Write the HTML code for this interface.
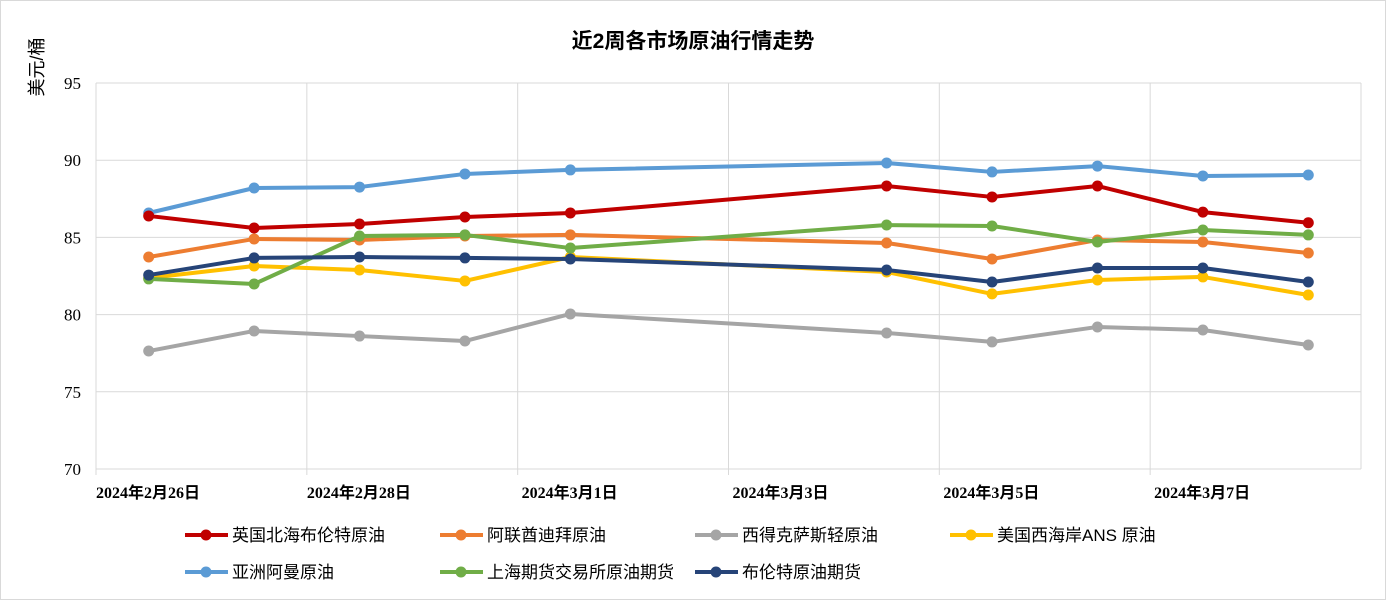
<!DOCTYPE html>
<html><head><meta charset="utf-8"><style>
body{margin:0;background:#fff;}
svg{display:block;font-family:"Liberation Serif","Noto Sans CJK SC",serif;}
</style></head><body>
<svg id="c" width="1386" height="600">
<rect x="0.5" y="0.5" width="1385" height="599" fill="#fff" stroke="#d9d9d9"/>
<text x="693" y="48" text-anchor="middle" font-size="21" font-weight="bold" font-family="Liberation Sans,Noto Sans CJK SC,sans-serif">近2周各市场原油行情走势</text>
<text transform="translate(43,67) rotate(-90)" text-anchor="middle" font-size="18" font-family="Liberation Sans,Noto Sans CJK SC,sans-serif">美元/桶</text>
<g id="grid"></g><g id="series"></g><g id="legend"></g>
</svg>
<script>
const dates=[0.5,1.5,2.5,3.5,4.5,7.5,8.5,9.5,10.5,11.5];
const yTicks=[70,75,80,85,90,95];
const xTickLabels=["2024年2月26日","2024年2月28日","2024年3月1日","2024年3月3日","2024年3月5日","2024年3月7日"];
const brent=[86.39,85.61,85.87,86.32,86.58,88.33,87.62,88.33,86.64,85.95];
const dubai=[83.73,84.90,84.83,85.09,85.16,84.64,83.60,84.83,84.70,83.99];
const wti=[77.64,78.94,78.61,78.29,80.04,78.81,78.23,79.20,79.00,78.03];
const ans=[82.37,83.15,82.89,82.18,83.73,82.76,81.34,82.24,82.44,81.27];
const oman=[86.58,88.20,88.26,89.11,89.37,89.82,89.24,89.62,88.98,89.04];
const shfe=[82.31,81.98,85.09,85.16,84.31,85.80,85.74,84.70,85.48,85.16];
const brentFut=[82.56,83.67,83.73,83.67,83.60,82.89,82.11,83.02,83.02,82.11];
const names=["英国北海布伦特原油","阿联酋迪拜原油","西得克萨斯轻原油","美国西海岸ANS 原油","亚洲阿曼原油","上海期货交易所原油期货","布伦特原油期货"];
const NS="http://www.w3.org/2000/svg";
const L=96,R=1361,T=83,B=469;
const x=d=>L+d*(R-L)/12;
const y=v=>B-(v-70)*(B-T)/25;
function mk(tag,at,p){const e=document.createElementNS(NS,tag);for(const k in at)e.setAttribute(k,at[k]);p.appendChild(e);return e;}
const g=document.getElementById('grid');
yTicks.forEach(v=>{
 const l=mk('line',{x1:L,x2:R,y1:y(v),y2:y(v),stroke:'#d9d9d9'},g);
 
 
 const t=mk('text',{x:L-15,y:y(v)+6,'text-anchor':'end','font-size':17},g);t.textContent=v;
 
 
});
for(let i=0;i<=12;i+=2){
 const l=mk('line',{x1:x(i),x2:x(i),y1:T,y2:B+(i<12?6:0),stroke:'#d9d9d9'},g);
 
 
}
mk('line',{x1:R,x2:R,y1:T,y2:B,stroke:'#d9d9d9'},g);
mk('line',{x1:L,x2:L,y1:T,y2:B,stroke:'#d9d9d9'},g);
xTickLabels.forEach((s,i)=>{
 const t=mk('text',{x:x(i*2)+52,y:498,'text-anchor':'middle','font-size':16,'font-weight':'bold'},g);t.textContent=s;
 
 
});
const all=[brent,dubai,wti,ans,oman,shfe,brentFut];
const cols=['#c00000','#ed7d31','#a5a5a5','#ffc000','#5b9bd5','#70ad47','#264478'];
const order=[2,3,1,5,6,4,0];
const sg=document.getElementById('series');
order.forEach(k=>{
 const s=all[k];
 const grp=mk('g',{},sg);
 
 
 mk('polyline',{points:s.map((v,i)=>x(dates[i])+','+y(v)).join(' '),fill:'none',stroke:cols[k],'stroke-width':4,'stroke-linejoin':'round'},grp);
 s.forEach((v,i)=>{const c=mk('circle',{cx:x(dates[i]),cy:y(v),r:5.5,fill:cols[k]},grp);
  
  });
});
const lg=document.getElementById('legend');
const pos=[[185,535],[440,535],[695,535],[950,535],[185,572],[440,572],[695,572]];
names.forEach((n,k)=>{
 const [px,py]=pos[k];
 const e=mk('g',{},lg);
 
 
 mk('line',{x1:px,x2:px+43,y1:py,y2:py,stroke:cols[k],'stroke-width':4},e);
 mk('circle',{cx:px+21,cy:py,r:5.5,fill:cols[k]},e);
 const t=mk('text',{x:px+47,y:py+6,'font-size':17,'font-family':'Liberation Sans,Noto Sans CJK SC,sans-serif'},e);t.textContent=n;
});
</script>
</body></html>
